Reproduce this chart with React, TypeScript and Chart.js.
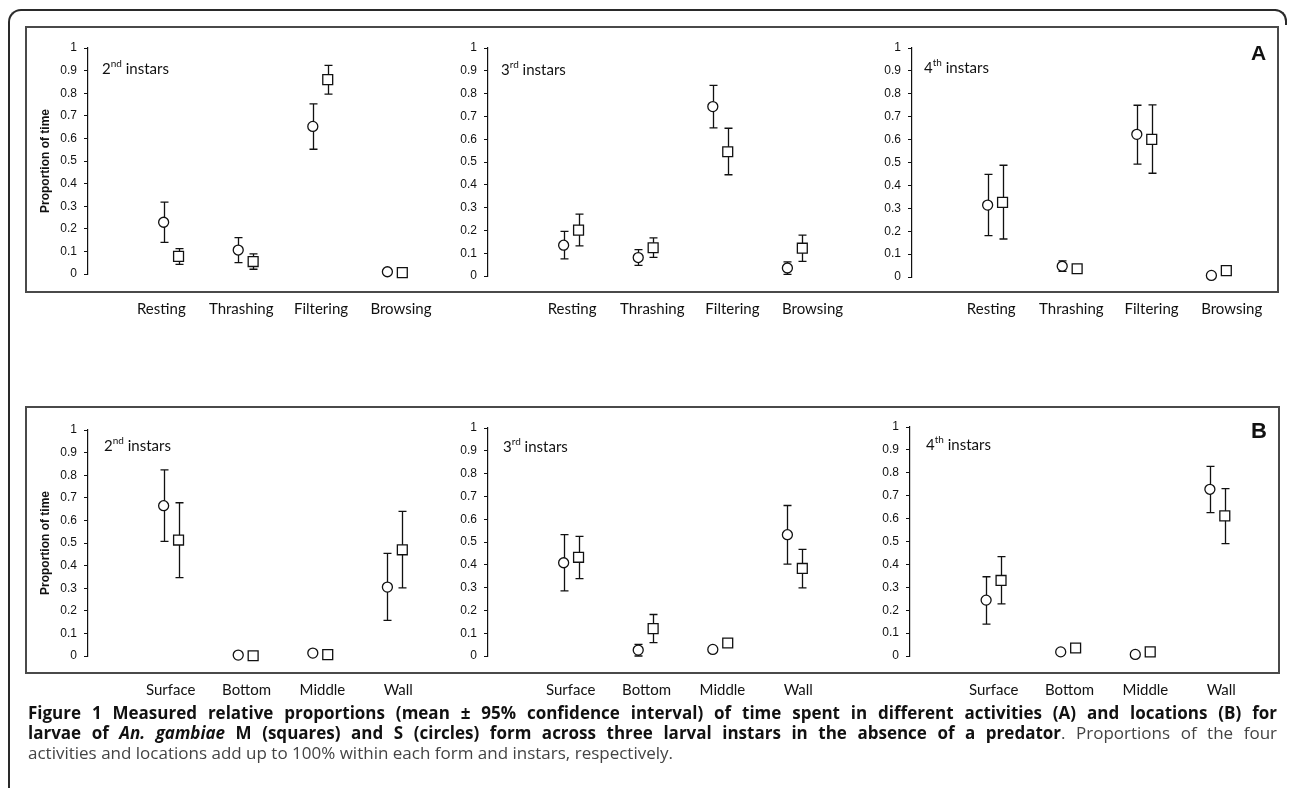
import React, { useEffect, useRef } from "react";
import { Chart, registerables } from "chart.js";

Chart.register(...registerables);

// ---------- categories & ticks ----------
const activities = ["Resting", "Thrashing", "Filtering", "Browsing"];
const locations = ["Surface", "Bottom", "Middle", "Wall"];
const proportionTicks = [0, 0.1, 0.2, 0.3, 0.4, 0.5, 0.6, 0.7, 0.8, 0.9, 1];
const instarNumbers = ["2", "3", "4"];
const instarSuffixes = ["nd", "rd", "th"];
const panelLetters = ["A", "B"];
const yAxisTitle = "Proportion of time";

// ---------- (A) activities ----------
// 2nd instars
const actS2Mean = [0.229, 0.106, 0.653, 0.010];
const actS2Lo = [0.140, 0.050, 0.552, 0.008];
const actS2Hi = [0.318, 0.161, 0.753, 0.012];
const actM2Mean = [0.078, 0.055, 0.860, 0.006];
const actM2Lo = [0.043, 0.021, 0.796, 0.004];
const actM2Hi = [0.112, 0.089, 0.923, 0.008];
// 3rd instars
const actS3Mean = [0.135, 0.081, 0.743, 0.035];
const actS3Lo = [0.075, 0.047, 0.650, 0.007];
const actS3Hi = [0.196, 0.116, 0.836, 0.062];
const actM3Mean = [0.201, 0.124, 0.545, 0.122];
const actM3Lo = [0.132, 0.082, 0.444, 0.064];
const actM3Hi = [0.271, 0.167, 0.648, 0.179];
// 4th instars
const actS4Mean = [0.314, 0.047, 0.623, 0.007];
const actS4Lo = [0.181, 0.025, 0.493, 0.005];
const actS4Hi = [0.448, 0.070, 0.750, 0.010];
const actM4Mean = [0.326, 0.036, 0.601, 0.028];
const actM4Lo = [0.166, 0.030, 0.453, 0.024];
const actM4Hi = [0.488, 0.044, 0.752, 0.032];

// ---------- (B) locations ----------
// 2nd instars
const locS2Mean = [0.665, 0.004, 0.013, 0.305];
const locS2Lo = [0.507, 0.002, 0.010, 0.158];
const locS2Hi = [0.824, 0.006, 0.016, 0.454];
const locM2Mean = [0.513, 0.001, 0.006, 0.470];
const locM2Lo = [0.347, 0.000, 0.004, 0.301];
const locM2Hi = [0.678, 0.003, 0.009, 0.640];
// 3rd instars
const locS3Mean = [0.409, 0.026, 0.029, 0.532];
const locS3Lo = [0.286, 0.000, 0.026, 0.403];
const locS3Hi = [0.532, 0.051, 0.032, 0.660];
const locM3Mean = [0.433, 0.120, 0.057, 0.384];
const locM3Lo = [0.339, 0.059, 0.054, 0.299];
const locM3Hi = [0.525, 0.182, 0.060, 0.468];
// 4th instars
const locS4Mean = [0.244, 0.018, 0.007, 0.728];
const locS4Lo = [0.139, 0.015, 0.005, 0.626];
const locS4Hi = [0.346, 0.021, 0.009, 0.828];
const locM4Mean = [0.330, 0.035, 0.018, 0.612];
const locM4Lo = [0.228, 0.020, 0.015, 0.491];
const locM4Hi = [0.434, 0.050, 0.021, 0.731];

// ---------- caption ----------
const captionLine1 =
  "Figure 1 Measured relative proportions (mean ± 95% confidence interval) of time spent in different activities (A) and locations (B) for";
const captionLine2a = "larvae of ";
const captionLine2Italic = "An. gambiae";
const captionLine2b =
  " M (squares) and S (circles) form across three larval instars in the absence of a predator";
const captionLine2c = ". Proportions of the four";
const captionLine3 =
  "activities and locations add up to 100% within each form and instars, respectively.";

// ---------- panel assembly ----------
const panelData = [
  { row: 0, col: 0, cats: activities, sMean: actS2Mean, sLo: actS2Lo, sHi: actS2Hi, mMean: actM2Mean, mLo: actM2Lo, mHi: actM2Hi },
  { row: 0, col: 1, cats: activities, sMean: actS3Mean, sLo: actS3Lo, sHi: actS3Hi, mMean: actM3Mean, mLo: actM3Lo, mHi: actM3Hi },
  { row: 0, col: 2, cats: activities, sMean: actS4Mean, sLo: actS4Lo, sHi: actS4Hi, mMean: actM4Mean, mLo: actM4Lo, mHi: actM4Hi },
  { row: 1, col: 0, cats: locations, sMean: locS2Mean, sLo: locS2Lo, sHi: locS2Hi, mMean: locM2Mean, mLo: locM2Lo, mHi: locM2Hi },
  { row: 1, col: 1, cats: locations, sMean: locS3Mean, sLo: locS3Lo, sHi: locS3Hi, mMean: locM3Mean, mLo: locM3Lo, mHi: locM3Hi },
  { row: 1, col: 2, cats: locations, sMean: locS4Mean, sLo: locS4Lo, sHi: locS4Hi, mMean: locM4Mean, mLo: locM4Lo, mHi: locM4Hi },
];

// layout (pixels) for each panel, separate from the data
const panelLayout = [
  { axisX: 88, yTop: 48, yZero: 274, labelStart: 75, labelStep: 81.7, labelMid: 309, pairStart: 85, instarX: 102, instarBase: 73 },
  { axisX: 488, yTop: 48, yZero: 276, labelStart: 86, labelStep: 82, labelMid: 309, pairStart: 85, instarX: 501, instarBase: 74 },
  { axisX: 912, yTop: 48, yZero: 277, labelStart: 81, labelStep: 82, labelMid: 309, pairStart: 85, instarX: 924, instarBase: 72 },
  { axisX: 88, yTop: 430, yZero: 656, labelStart: 84.6, labelStep: 77.6, labelMid: 690, pairStart: 85, instarX: 104, instarBase: 450 },
  { axisX: 488, yTop: 428, yZero: 656, labelStart: 84.6, labelStep: 77.6, labelMid: 690, pairStart: 85, instarX: 503, instarBase: 451 },
  { axisX: 910, yTop: 427, yZero: 656, labelStart: 85.6, labelStep: 77.6, labelMid: 690, pairStart: 85.5, instarX: 926, instarBase: 449 },
];

const Y_AXIS_W = 60;
const PAD_TOP = 12;
const X_AXIS_H = 50;
const PLOT_W = 370;
const PAIR_STEP = 76.3;
const DODGE = 0.1;
const INK = "#111";
const ARIAL = '"Liberation Sans", Arial, sans-serif';

const errorBarPlugin = {
  id: "errorBars",
  beforeDatasetsDraw(chart: any) {
    const ctx = chart.ctx;
    const ys = chart.scales.y;
    ctx.save();
    ctx.strokeStyle = INK;
    ctx.lineWidth = 1.3;
    chart.data.datasets.forEach((ds: any) => {
      const xs = chart.scales[ds.xAxisID];
      ds.data.forEach((pt: any) => {
        const px = Math.round(xs.getPixelForValue(pt.x)) + 0.5;
        const top = ys.getPixelForValue(pt.hi);
        const bot = ys.getPixelForValue(pt.lo);
        ctx.beginPath();
        ctx.moveTo(px, top);
        ctx.lineTo(px, bot);
        ctx.moveTo(px - 4, top);
        ctx.lineTo(px + 4, top);
        ctx.moveTo(px - 4, bot);
        ctx.lineTo(px + 4, bot);
        ctx.stroke();
      });
    });
    ctx.restore();
  },
};

function Panel({ data, geo }: { data: any; geo: any }) {
  const ref = useRef<HTMLCanvasElement>(null);
  const w = Y_AXIS_W + PLOT_W;
  const h = PAD_TOP + (geo.yZero - geo.yTop) + X_AXIS_H;

  useEffect(() => {
    const cats: string[] = data.cats;
    const sPts = cats.map((_, i) => ({ x: i - DODGE, y: data.sMean[i], lo: data.sLo[i], hi: data.sHi[i] }));
    const mPts = cats.map((_, i) => ({ x: i + DODGE, y: data.mMean[i], lo: data.mLo[i], hi: data.mHi[i] }));
    const chart = new Chart(ref.current as HTMLCanvasElement, {
      type: "scatter",
      data: {
        datasets: [
          {
            label: "S form",
            data: sPts,
            xAxisID: "xp",
            yAxisID: "y",
            pointStyle: "circle",
            pointRadius: 5,
            pointBackgroundColor: "#fff",
            pointBorderColor: INK,
            pointBorderWidth: 1.3,
            clip: false,
          } as any,
          {
            label: "M form",
            data: mPts,
            xAxisID: "xp",
            yAxisID: "y",
            pointStyle: "rect",
            pointRadius: 7,
            pointBackgroundColor: "#fff",
            pointBorderColor: INK,
            pointBorderWidth: 1.3,
            clip: false,
          } as any,
        ],
      },
      options: {
        responsive: false,
        animation: false,
        events: [],
        layout: { padding: { top: PAD_TOP, left: 0, right: 0, bottom: 0 } },
        plugins: { legend: { display: false }, tooltip: { enabled: false } },
        scales: {
          x: {
            type: "linear",
            position: "bottom",
            min: -geo.labelStart / geo.labelStep,
            max: (PLOT_W - geo.labelStart) / geo.labelStep,
            grid: { display: false, drawTicks: false },
            border: { display: false },
            afterBuildTicks: (s: any) => {
              s.ticks = cats.map((_, i) => ({ value: i }));
            },
            afterFit: (s: any) => {
              s.height = X_AXIS_H;
              s.paddingLeft = 0;
              s.paddingRight = 0;
            },
            ticks: {
              autoSkip: false,
              maxRotation: 0,
              minRotation: 0,
              padding: geo.labelMid - geo.yZero - 9,
              color: "#111",
              font: { family: "Lato", size: 15 },
              callback: (v: any) => cats[Math.round(Number(v))] ?? "",
            },
          },
          xp: {
            type: "linear",
            position: "bottom",
            display: false,
            min: -geo.pairStart / PAIR_STEP,
            max: (PLOT_W - geo.pairStart) / PAIR_STEP,
          },
          y: {
            type: "linear",
            position: "left",
            min: 0,
            max: 1,
            afterBuildTicks: (s: any) => {
              s.ticks = proportionTicks.map((v) => ({ value: v }));
            },
            afterFit: (s: any) => {
              s.width = Y_AXIS_W;
              s.paddingTop = 0;
              s.paddingBottom = 0;
            },
            border: { display: true, color: INK, width: 1.2 },
            grid: { display: true, drawOnChartArea: false, drawTicks: true, tickLength: 4, color: INK, lineWidth: 1 },
            ticks: {
              padding: 7,
              color: "#111",
              font: { family: ARIAL, size: 12 },
              callback: (v: any) => String(Math.round(Number(v) * 10) / 10),
            },
            title: {
              display: data.col === 0,
              text: yAxisTitle,
              color: "#111",
              font: { family: ARIAL, size: 12, weight: "bold" },
              padding: { top: 10, bottom: 0 },
            },
          },
        },
      } as any,
      plugins: [errorBarPlugin],
    });
    return () => chart.destroy();
  }, []);

  return (
    <canvas
      ref={ref}
      width={w}
      height={h}
      style={{ position: "absolute", left: geo.axisX - Y_AXIS_W, top: geo.yTop - PAD_TOP, width: w, height: h }}
    />
  );
}

export default function App() {
  const frameColor = "#2a2a2a";
  const boxColor = "#4a4a4a";
  const capFont = '"Open Sans", Lato, sans-serif';
  return (
    <div style={{ position: "absolute", left: 0, top: 0, width: 1290, height: 788, overflow: "hidden", background: "#fff" }}>
      {/* outer figure frame */}
      <div style={{ position: "absolute", left: 8, top: 9, width: 1268, height: 779, boxSizing: "border-box", borderTop: `2px solid ${frameColor}`, borderLeft: `2px solid ${frameColor}`, borderTopLeftRadius: 13 }} />
      <div style={{ position: "absolute", left: 1272, top: 9, width: 15, height: 16, boxSizing: "border-box", borderTop: `2px solid ${frameColor}`, borderRight: `2px solid ${frameColor}`, borderTopRightRadius: 12 }} />

      {/* panel boxes */}
      <div style={{ position: "absolute", left: 25, top: 26, width: 1254, height: 267, boxSizing: "border-box", border: `2px solid ${boxColor}` }} />
      <div style={{ position: "absolute", left: 25, top: 406, width: 1255, height: 268, boxSizing: "border-box", border: `2px solid ${boxColor}` }} />

      {panelData.map((d, i) => (
        <Panel key={i} data={d} geo={panelLayout[i]} />
      ))}

      {/* instar labels */}
      {panelData.map((d, i) => {
        const g = panelLayout[i];
        return (
          <div key={"in" + i} style={{ position: "absolute", left: g.instarX, top: g.instarBase - 14.5, font: "15px Lato", lineHeight: "18px", color: "#111", whiteSpace: "nowrap" }}>
            {instarNumbers[d.col]}
            <span style={{ fontSize: 10, position: "relative", top: -7 }}>{instarSuffixes[d.col]}</span> instars
          </div>
        );
      })}

      {/* panel letters */}
      <div style={{ position: "absolute", left: 1251, top: 42, font: `bold 21px ${ARIAL}`, lineHeight: "22px", color: "#111" }}>{panelLetters[0]}</div>
      <div style={{ position: "absolute", left: 1251, top: 420, font: `bold 22px ${ARIAL}`, lineHeight: "22px", color: "#111" }}>{panelLetters[1]}</div>

      {/* caption */}
      <div style={{ position: "absolute", left: 28, top: 703, width: 1249, fontFamily: capFont, fontSize: 17, lineHeight: "20px", color: "#111" }}>
        <div style={{ fontWeight: "bold", textAlign: "justify", textAlignLast: "justify" as any }}>{captionLine1}</div>
        <div style={{ textAlign: "justify", textAlignLast: "justify" as any }}>
          <span style={{ fontWeight: "bold" }}>
            {captionLine2a}
            <i>{captionLine2Italic}</i>
            {captionLine2b}
          </span>
          <span style={{ color: "#444" }}>{captionLine2c}</span>
        </div>
        <div style={{ color: "#444" }}>{captionLine3}</div>
      </div>
    </div>
  );
}
